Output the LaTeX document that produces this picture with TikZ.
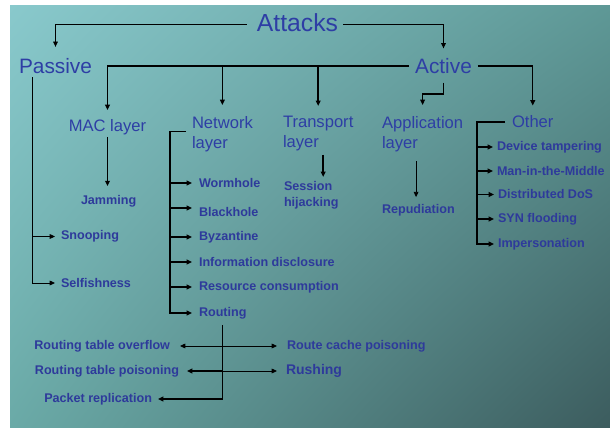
\documentclass[tikz,border=0pt]{standalone}
\usepackage{fontspec}
\setmainfont{Liberation Sans}
\usetikzlibrary{arrows.meta,calc,shadings}
\definecolor{headblue}{RGB}{46,62,165}
\definecolor{itemblue}{RGB}{46,58,155}
\definecolor{bgUL}{RGB}{137,201,204}
\definecolor{bgUR}{RGB}{94,152,150}
\definecolor{bgLL}{RGB}{106,170,167}
\definecolor{bgLR}{RGB}{60,92,94}
\begin{document}
\begin{tikzpicture}[x=0.85pt,y=-0.85pt,
  every node/.style={inner sep=0pt,outer sep=0pt},
  ttl/.style={text=headblue,font=\fontsize{21}{25}\selectfont},
  lvlone/.style={text=headblue,font=\fontsize{17.7}{21}\selectfont},
  lvltwo/.style={text=headblue,font=\fontsize{14.1}{17}\selectfont,align=left},
  itm/.style={text=itemblue,font=\fontsize{10.7}{13.6}\selectfont\bfseries,align=left},
  itmbig/.style={text=itemblue,font=\fontsize{11.9}{14}\selectfont\bfseries},
  conn/.style={draw=black,line width=1.2pt},
  arr/.style={conn,-{Triangle[length=4.5pt,width=4pt]}},
  tarr/.style={draw=black,line width=0.75pt,-{Triangle[length=4.5pt,width=4pt]}}]
\useasboundingbox (0,0) rectangle (610,428);
\fill[white] (0,0) rectangle (610,428);
\shade[upper left=bgUL,upper right=bgUR,lower left=bgLL,lower right=bgLR] (10,6) rectangle (610,428);

% headings
\node[ttl] (attacks) at (297.5,23) {Attacks};
\node[lvlone] (passive) at (55.5,66.5) {Passive};
\node[lvlone] (active) at (443.5,66) {Active};
\node[lvltwo,anchor=base] (mac) at (107.5,132) {MAC layer};
\node[lvltwo,anchor=north west] (network) at (192,116) {Network\\layer};
\node[lvltwo,anchor=north west] (transport) at (283,116) {Transport\\layer};
\node[lvltwo,anchor=north west] (application) at (382,116) {Application\\layer};
\node[lvltwo,anchor=base west] (other) at (512,128) {Other};

% items
\node[itm,anchor=west] (jamming) at (81,201) {Jamming};
\node[itm,anchor=west] (snooping) at (61,236.5) {Snooping};
\node[itm,anchor=west] (selfishness) at (61,283) {Selfishness};
\node[itm,anchor=west] (wormhole) at (199,183) {Wormhole};
\node[itm,anchor=west] (blackhole) at (199,212) {Blackhole};
\node[itm,anchor=west] (byzantine) at (199,237) {Byzantine};
\node[itm,anchor=west] (infodisc) at (199,262) {Information disclosure};
\node[itm,anchor=west] (resource) at (199,287) {Resource consumption};
\node[itm,anchor=west] (routing) at (199,313) {Routing};
\node[itm,anchor=north west] (session) at (284,181) {Session\\hijacking};
\node[itm,anchor=west] (repudiation) at (382,210) {Repudiation};
\node[itm,anchor=west] (device) at (497,147) {Device tampering};
\node[itm,anchor=west] (mitm) at (497,171) {Man-in-the-Middle};
\node[itm,anchor=west] (ddos) at (498,194.5) {Distributed DoS};
\node[itm,anchor=west] (syn) at (498,219) {SYN flooding};
\node[itm,anchor=west] (imperson) at (498,244) {Impersonation};
\node[itm,anchor=east] (rto) at (170,346) {Routing table overflow};
\node[itm,anchor=west] (rcp) at (287,346) {Route cache poisoning};
\node[itm,anchor=east] (rtp) at (179,371) {Routing table poisoning};
\node[itmbig,anchor=west] (rushing) at (286,371) {Rushing};
\node[itm,anchor=east] (packet) at (152,399) {Packet replication};

% Attacks
\draw[tarr] ($(attacks.west)+(-10,1)$) -| ($(passive.north)+(0,-12)$);
\draw[tarr] ($(attacks.east)+(5,1)$) -| ($(active.north)+(0,-10)$);

% Active
\draw[arr] ($(active.west)+(-6,0)$) -| ($(mac.north)+(0,-10)$);
\draw[arr] (network.north |- active.west) -- ($(network.north)+(0,-11)$);
\draw[arr] (transport.north |- active.west) -- ($(transport.north)+(0,-10)$);
\draw[arr] ($(active.east)+(6,0)$) -| ($(other.north)+(0,-10.5)$);
\draw[arr] ($(active.south)+(0,9)$) |- ($(application.north)+(0,-22)$) -- ($(application.north)+(0,-11)$);

% Passive
\coordinate (pv) at ($(passive.south west)+(13,3)$);
\draw[tarr] (pv) |- ($(selfishness.west)+(-6,0)$);
\draw[tarr] (pv |- snooping.west) -- ($(snooping.west)+(-6,0)$);

% MAC
\draw[arr] ($(mac.south)+(0,1.5)$) -- ($(mac.south |- jamming.north)+(0,-9)$);

% Network
\coordinate (nb) at ($(network.west)+(-22,-2)$);
\coordinate (bh) at ($(blackhole.west)+(-7,-4)$);
\draw[arr] ($(network.west)+(-6,-2)$) -- (nb) |- ($(routing.west)+(-7,0)$);
\draw[arr] (nb |- wormhole.west) -- ($(wormhole.west)+(-7,0)$);
\draw[arr] (nb |- bh) -- (bh);
\draw[arr] (nb |- byzantine.west) -- ($(byzantine.west)+(-7,0)$);
\draw[arr] (nb |- infodisc.west) -- ($(infodisc.west)+(-7,0)$);
\draw[arr] (nb |- resource.west) -- ($(resource.west)+(-7,0)$);

% Transport
\draw[arr] ($(transport.south)+(5,4)$) -- ($(transport.south |- session.north)+(5,-4)$);

% Application
\draw[tarr] ($(application.south)+(-6.5,10)$) -- ($(application.south |- repudiation.north)+(-6.5,-7)$);

% Other
\coordinate (ob) at ($(other.west)+(-35,0)$);
\draw[arr] ($(other.west)+(-7,0)$) -- (ob) |- ($(imperson.west)+(-4,0)$);
\draw[arr] (ob |- device.west) -- ($(device.west)+(-4,0)$);
\draw[arr] (ob |- mitm.west) -- ($(mitm.west)+(-4,0)$);
\draw[arr] (ob |- ddos.west) -- ($(ddos.west)+(-4,0)$);
\draw[arr] (ob |- syn.west) -- ($(syn.west)+(-4,0)$);

% Routing
\coordinate (rt) at ($(routing.south)+(0,6)$);
\draw[arr] (rt) |- ($(packet.east)+(6,0)$);
\draw[tarr] (rt |- rto.east) -- ($(rto.east)+(10,0)$);
\draw[tarr] (rt |- rto.east) -- ($(rcp.west)+(-10,0)$);
\draw[arr] (rt |- rtp.east) -- ($(rtp.east)+(8,0)$);
\draw[tarr] (rt |- rtp.east) -- ($(rushing.west)+(-9,0)$);
\end{tikzpicture}
\end{document}
